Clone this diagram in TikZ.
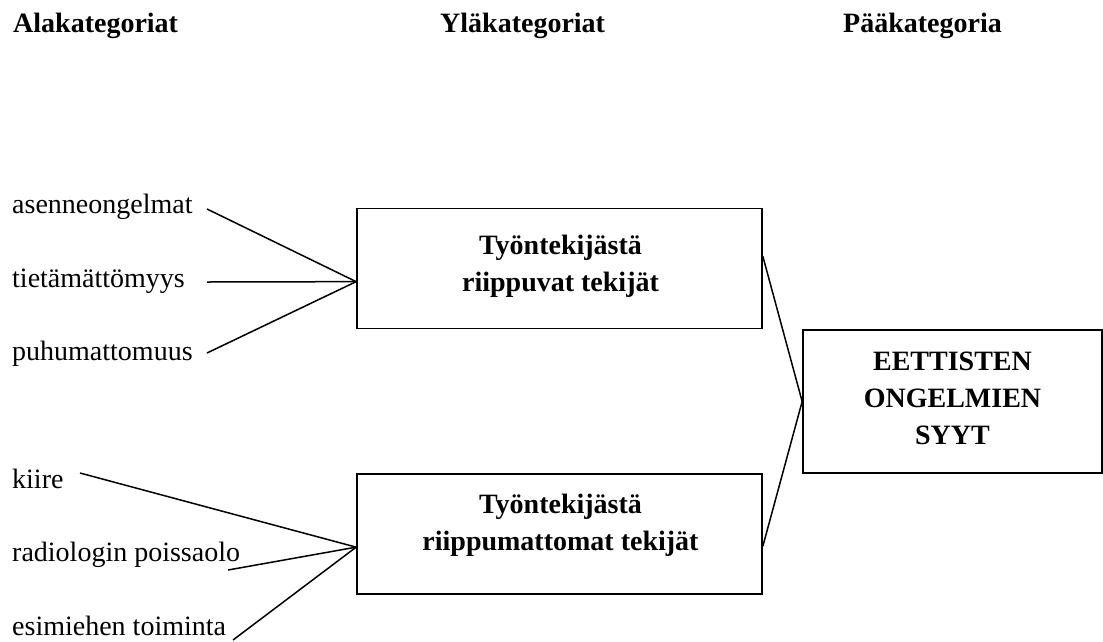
\documentclass[tikz,border=0pt]{standalone}
\usepackage{fontspec}
\setmainfont{Liberation Serif}
\usetikzlibrary{calc}
\begin{document}
\begin{tikzpicture}[x=1pt,y=-1pt,
  lbl/.style={anchor=base west,inner sep=0pt,font=\fontsize{28}{38}\selectfont},
  head/.style={anchor=base west,inner sep=0pt,font=\fontsize{28}{38}\selectfont\bfseries},
  box/.style={draw,line width=1.7pt,rectangle,inner sep=0pt},
  boxtext/.style={inner sep=0pt,align=center,font=\fontsize{28}{37}\selectfont\bfseries},
  conn/.style={line width=1.5pt}]
\useasboundingbox (0,0) rectangle (1103,641);
% headings
\node[head] (h1) at (13,32) {Alakategoriat};
\node[head] (h2) at (440,32) {Yläkategoriat};
\node[head] (h3) at (843,32) {Pääkategoria};
% sub categories
\node[lbl] (a1) at (12,213) {asenneongelmat};
\node[lbl] (a2) at (12,287) {tietämättömyys};
\node[lbl] (a3) at (12,360) {puhumattomuus};
\node[lbl] (b1) at (12,488) {kiire};
\node[lbl] (b2) at (12,561) {radiologin poissaolo};
\node[lbl] (b3) at (12,635) {esimiehen toiminta};
% boxes
\node[box,minimum width=405pt,minimum height=120pt] (tb) at (559.5,268.5) {};
\node[boxtext] (tbt) at (560.5,266.5) {Työntekijästä\\riippuvat tekijät};
\node[box,minimum width=405pt,minimum height=120pt] (bb) at (559.5,534) {};
\node[boxtext] (bbt) at (560.5,525) {Työntekijästä\\riippumattomat tekijät};
\node[box,minimum width=299pt,minimum height=143pt] (mb) at (952.5,401.5) {};
\node[boxtext] (mbt) at (952.5,398) {EETTISTEN\\ONGELMIEN\\SYYT};
% connector end points
\coordinate (a1e) at (207,209);
\coordinate (a2e) at (207,282);
\coordinate (a3e) at (207,353);
\coordinate (b1e) at (80,473);
\coordinate (b2e) at (228,570);
\coordinate (b3e) at (233,640);
\coordinate (tbin) at ($(tb.north west)!0.608!(tb.south west)$);
\coordinate (bbin) at ($(bb.north west)!0.608!(bb.south west)$);
\coordinate (tbout) at ($(tb.north east)!0.4!(tb.south east)$);
\coordinate (bbout) at ($(bb.north east)!0.6!(bb.south east)$);
% connectors
\draw[conn] (a1e) -- (tbin);
\draw[conn] (a2e) -- (tbin);
\draw[conn] (a3e) -- (tbin);
\draw[conn] (b1e) -- (bbin);
\draw[conn] (b2e) -- (bbin);
\draw[conn] (b3e) -- (bbin);
\draw[conn] (tbout) -- (mb.west) -- (bbout);
\end{tikzpicture}
\end{document}
